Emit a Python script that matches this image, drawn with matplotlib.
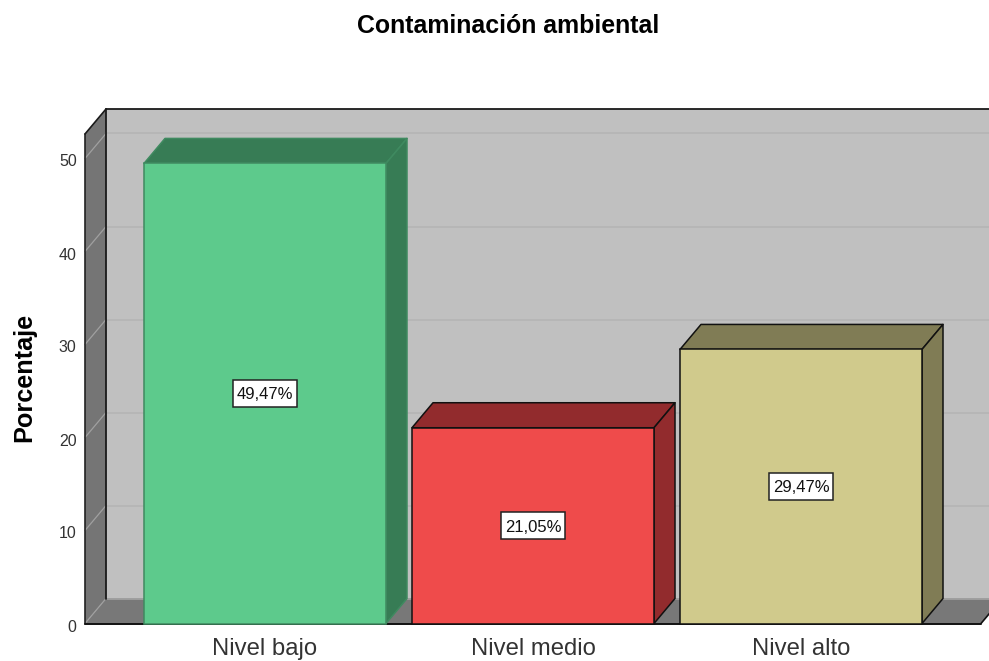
import matplotlib
matplotlib.use("Agg")
import matplotlib.pyplot as plt
from matplotlib.patches import Polygon, Rectangle
from matplotlib.transforms import ScaledTranslation

categories = ["Nivel bajo", "Nivel medio", "Nivel alto"]
values = [49.47, 21.05, 29.47]
value_labels = ["49,47%", "21,05%", "29,47%"]
y_ticks = [0, 10, 20, 30, 40, 50]
title = "Contaminación ambiental"
y_label = "Porcentaje"
face_colors = ["#5DCA8C", "#EF4B4B", "#D0CA8C"]
side_colors = ["#377C55", "#922B2D", "#807C55"]
edge_colors = ["#3F8A60", "#111111", "#111111"]

W, H = 989, 661
plt.rcParams["font.family"] = ["Liberation Sans", "DejaVu Sans"]
fig = plt.figure(figsize=(W / 100, H / 100), dpi=100)

# axes: front plane of the pseudo-3D chart
px_left, px_right, px_bottom, px_top = 85, 981, 623.5, 134
ax = fig.add_axes([px_left / W, 1 - px_bottom / H,
                   (px_right - px_left) / W, (px_bottom - px_top) / H])
px_per_cat = 268
half = (px_right - px_left) / 2 / px_per_cat
ax.set_xlim(1 - half, 1 + half)
px_per_pct = 9.3
ymax = (px_bottom - px_top) / px_per_pct
ax.set_ylim(0, ymax)
for s in ax.spines.values():
    s.set_visible(False)
ax.patch.set_visible(False)

dx = 21 / px_per_cat
dy = 25 / px_per_pct
x0, x1 = ax.get_xlim()
bar_w = 242 / px_per_cat
box_w = 64 / px_per_cat
box_h = 27 / px_per_pct

def poly(pts, fc, ec="none", lw=0, z=1):
    ax.add_patch(Polygon(pts, closed=True, facecolor=fc, edgecolor=ec,
                         linewidth=lw, zorder=z, clip_on=False, joinstyle="round"))

def line(xs, ys, c, lw, z=2):
    ax.plot(xs, ys, color=c, lw=lw, zorder=z, clip_on=False, solid_capstyle="round")

xe = x1 + 2 * dx
# back wall, left wall, floor
poly([(x0 + dx, dy), (xe, dy), (xe, ymax + dy), (x0 + dx, ymax + dy)], "#C0C0C0", z=1)
poly([(x0, 0), (x0 + dx, dy), (x0 + dx, ymax + dy), (x0, ymax)], "#757575", z=1)
poly([(x0, 0), (x1, 0), (x1 + dx, dy), (x0 + dx, dy)], "#787878", z=1)

# gridlines
for t in y_ticks:
    line([x0 + dx, xe], [t + dy, t + dy], "#B6B6B6" if t else "#A0A0A0", 1.3, z=2)
    line([x0, x0 + dx], [t, t + dy], "#A0A0A0", 0.9, z=2)

# frame
line([x0 + dx, xe], [ymax + dy, ymax + dy], "#1A1A1A", 1.3, z=3)
line([x0 + dx, x0 + dx], [dy, ymax + dy], "#1A1A1A", 1.3, z=3)
line([x0, x0], [0, ymax], "#222222", 1.2, z=3)
line([x0, x0 + dx], [ymax, ymax + dy], "#1A1A1A", 1.2, z=3)
line([x0, x1], [0, 0], "#111111", 1.4, z=3)
line([x1, x1 + dx], [0, dy], "#111111", 1.2, z=3)

# bars
for i, (v, fc, sc, ec, lab) in enumerate(zip(values, face_colors, side_colors, edge_colors, value_labels)):
    l, r = i - bar_w / 2, i + bar_w / 2
    z = 5 + i
    poly([(l, v), (r, v), (r + dx, v + dy), (l + dx, v + dy)], sc, ec, 1.1, z)
    poly([(r, 0), (r + dx, dy), (r + dx, v + dy), (r, v)], sc, ec, 1.1, z)
    ax.add_patch(Rectangle((l, 0), bar_w, v, facecolor=fc, edgecolor=ec,
                           linewidth=1.1, zorder=z, clip_on=False))
    ax.add_patch(Rectangle((i - box_w / 2, v / 2 - box_h / 2), box_w, box_h,
                           facecolor="white", edgecolor="#222222", linewidth=1.1,
                           zorder=19, clip_on=False))
    ax.text(i, v / 2, lab, ha="center", va="center_baseline", fontsize=12,
            color="#111111", zorder=20)

ax.set_xticks(range(len(categories)))
ax.set_xticklabels(categories, fontsize=17.2, color="#333333")
ax.set_yticks(y_ticks)
ax.set_yticklabels([str(t) for t in y_ticks], fontsize=11.5, color="#333333", va="center")
ax.tick_params(axis="both", length=0)
ax.tick_params(axis="x", pad=10.5)
ax.tick_params(axis="y", pad=6)
shift = ScaledTranslation(0, -3.5 / 100, fig.dpi_scale_trans)
for lbl in ax.get_yticklabels():
    lbl.set_transform(lbl.get_transform() + shift)

fig.text(508 / W, 1 - 26 / H, title, ha="center", va="center",
         fontsize=17.9, fontweight="bold", color="black")
fig.text(24 / W, 1 - 377 / H, y_label, rotation=90, ha="center", va="center",
         fontsize=18.2, fontweight="bold", color="black")

fig.savefig("out.png", dpi=100, facecolor="white")
